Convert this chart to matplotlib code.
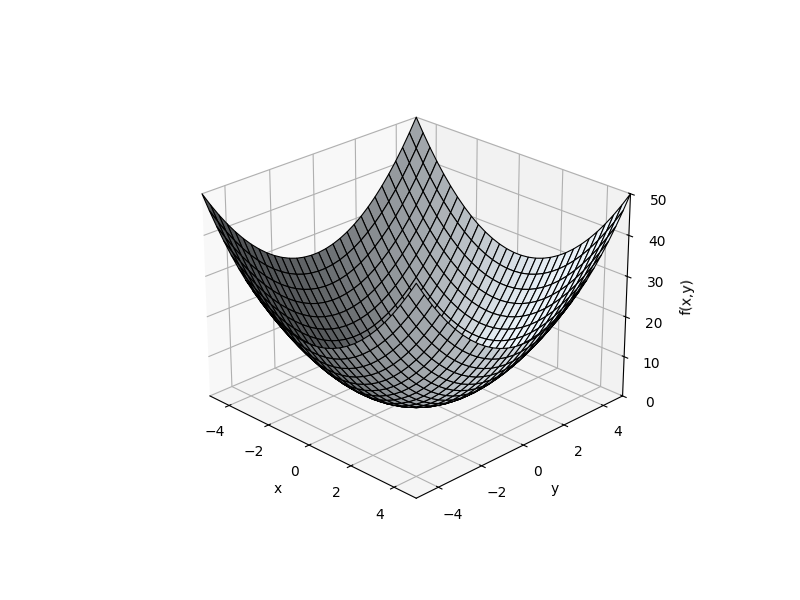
import numpy as np
import matplotlib
matplotlib.use("Agg")
import matplotlib.pyplot as plt

x_vals = [-5, -4.655, -4.31, -3.966, -3.621, -3.276, -2.931, -2.586, -2.241, -1.897, -1.552, -1.207, -0.862, -0.517, -0.172,
          0.172, 0.517, 0.862, 1.207, 1.552, 1.897, 2.241, 2.586, 2.931, 3.276, 3.621, 3.966, 4.31, 4.655, 5]
y_vals = [-5, -4.655, -4.31, -3.966, -3.621, -3.276, -2.931, -2.586, -2.241, -1.897, -1.552, -1.207, -0.862, -0.517, -0.172,
          0.172, 0.517, 0.862, 1.207, 1.552, 1.897, 2.241, 2.586, 2.931, 3.276, 3.621, 3.966, 4.31, 4.655, 5]

# height contributed by each grid line, read along the surface rims
z_along_x = [25, 21.67, 18.58, 15.73, 13.11, 10.73, 8.59, 6.69, 5.02, 3.6, 2.41, 1.46, 0.74, 0.27, 0.03,
             0.03, 0.27, 0.74, 1.46, 2.41, 3.6, 5.02, 6.69, 8.59, 10.73, 13.11, 15.73, 18.58, 21.67, 25]
z_along_y = [25, 21.67, 18.58, 15.73, 13.11, 10.73, 8.59, 6.69, 5.02, 3.6, 2.41, 1.46, 0.74, 0.27, 0.03,
             0.03, 0.27, 0.74, 1.46, 2.41, 3.6, 5.02, 6.69, 8.59, 10.73, 13.11, 15.73, 18.58, 21.67, 25]

X, Y = np.meshgrid(x_vals, y_vals)
Z = np.add.outer(z_along_y, z_along_x)

fig = plt.figure(figsize=(8, 6), dpi=100)
ax = fig.add_subplot(projection='3d')
ax.plot_surface(X, Y, Z, rstride=1, cstride=1, color='aliceblue', edgecolor='black', linewidth=0.8)
ax.view_init(elev=25, azim=-45)
ax.set_xlim(-5, 5)
ax.set_ylim(-5, 5)
ax.set_zlim(0, 50)
ax.set_xlabel("x")
ax.set_ylabel("y")
ax.set_zlabel("f(x,y)")
fig.savefig("out.png")
